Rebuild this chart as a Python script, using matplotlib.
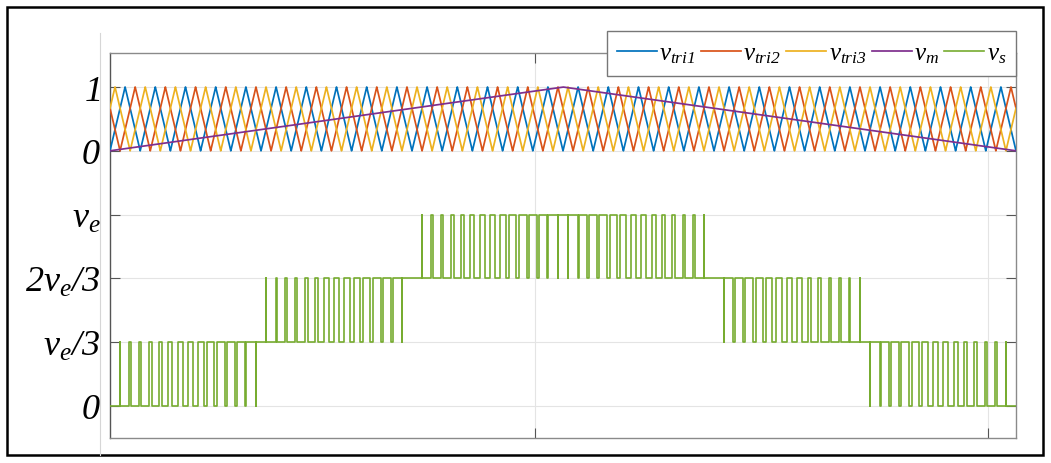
import numpy as np
import matplotlib
matplotlib.use('Agg')
import matplotlib.pyplot as plt
from matplotlib.patches import Rectangle
from matplotlib.lines import Line2D

# ---------------- data ----------------
n_carrier_periods = 30                 # carrier periods over the plotted window
carrier_names = ['tri1', 'tri2', 'tri3']
carrier_peak_phase = [0.5, 5 / 6, 1 / 6]   # position of each carrier's peak inside a period
mod_peak_time = 0.5                    # v_m peaks in the middle of the window
mod_low, mod_high = 0.0, 1.0
carrier_band_offset = 4                # carriers drawn in the band 4..5 of the y axis
ytick_pos = [0, 1, 2, 3, 4, 5]
ytick_labels = [r'$0$', r'$v_e/3$', r'$2v_e/3$', r'$v_e$', r'$0$', r'$1$']
xtick_pos = [0.469, 0.969]
series_labels = [r'$v_{tri1}$', r'$v_{tri2}$', r'$v_{tri3}$', r'$v_m$', r'$v_s$']
colors = ['#0072BD', '#D95319', '#EDB120', '#7E2F8E', '#77AC30']

# ---------------- style ----------------
plt.rcParams['mathtext.fontset'] = 'custom'
plt.rcParams['mathtext.it'] = 'Liberation Serif:italic'
plt.rcParams['mathtext.rm'] = 'Liberation Serif:italic'
plt.rcParams['mathtext.default'] = 'it'

W, H = 1051, 463
fig = plt.figure(figsize=(W / 100, H / 100), dpi=100)
ax = fig.add_axes([110 / W, 1 - 438 / H, (1016 - 110) / W, (438 - 53) / H])

t = np.linspace(0, 1, 90001)


def carrier(phase, tt):
    x = tt * n_carrier_periods - phase + 0.5
    return 1 - 2 * np.abs((x - np.floor(x)) - 0.5)


def modulating(tt):
    return mod_low + (mod_high - mod_low) * (1 - np.abs(tt - mod_peak_time) / mod_peak_time)


vm = modulating(t)
handles = []
for p, c in zip(carrier_peak_phase, colors[:3]):
    h, = ax.plot(t, carrier(p, t) + carrier_band_offset, color=c, lw=1.25, zorder=3)
    handles.append(h)
h, = ax.plot(t, vm + carrier_band_offset, color=colors[3], lw=1.25, zorder=4)
handles.append(h)

# output voltage (in units of v_e/3)
tf = np.linspace(0, 1, 400001)
vmf = modulating(tf)
vs = np.zeros_like(tf)
for p in carrier_peak_phase:
    vs += (vmf > carrier(p, tf))
chg = np.nonzero(np.diff(vs))[0] + 1
idx = np.concatenate([[0], chg])
ts = np.append(tf[idx], 1.0)
ys = np.append(vs[idx], vs[-1])
h, = ax.step(ts, ys, where='post', color=colors[4], lw=1.2, zorder=3)
handles.append(h)

ax.set_xlim(0, 1)
ax.set_ylim(-0.5016, 5.533)
ax.set_yticks(ytick_pos)
ax.set_yticklabels(ytick_labels, fontsize=26)
ax.set_xticks(xtick_pos)
ax.set_xticklabels([])
ax.tick_params(direction='in', length=7, width=0.8, color='#555555',
               top=True, right=True, pad=7)
ax.grid(True, color='#e4e4e4', lw=0.8, zorder=0)
ax.set_axisbelow(True)
for s in ax.spines.values():
    s.set_color('#8a8a8a')
    s.set_linewidth(1.0)
ax.spines['left'].set_color('#555555')

leg = ax.legend(handles, series_labels, ncol=5, loc='upper right',
                bbox_to_anchor=(1.0, (438 - 31) / (438 - 53)), borderaxespad=0,
                fontsize=18, handlelength=1.6, handletextpad=0.1,
                columnspacing=0.2, frameon=True, fancybox=False,
                framealpha=1, edgecolor='#777777', borderpad=0.4)
leg.get_frame().set_linewidth(1.0)

# faint guide line left of the axes and the outer black frame
fig.add_artist(Line2D([100 / W, 100 / W], [1 - 455 / H, 1 - 33 / H],
                      color='#d6d6d6', lw=0.8, transform=fig.transFigure))
fig.add_artist(Rectangle((7 / W, 1 - 455 / H), (1043 - 7) / W, (455 - 7) / H,
                         fill=False, edgecolor='black', lw=1.8,
                         transform=fig.transFigure))

fig.savefig('out.png', dpi=100)
